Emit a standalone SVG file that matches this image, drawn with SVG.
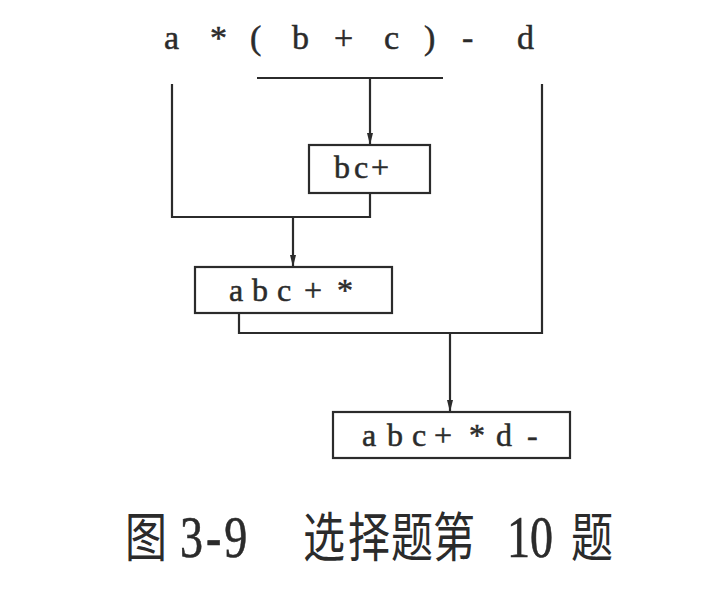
<svg xmlns="http://www.w3.org/2000/svg" width="726" height="590" viewBox="0 0 726 590">
<style>
.ln{fill:none;stroke:#2b2b2b;stroke-width:2.2}
.box{fill:#fff;stroke:#2b2b2b;stroke-width:2.2}
.t{font-family:"Liberation Serif","Times New Roman",serif;fill:#2b2b2b;stroke:#2b2b2b;stroke-width:0.5}
.cjk{font-family:"Noto Sans CJK SC",sans-serif;fill:#2b2b2b}
</style>
<defs>
<marker id="ah" viewBox="0 0 12 8" refX="12" refY="4" markerWidth="12" markerHeight="8" markerUnits="userSpaceOnUse" orient="auto">
<path d="M0,1 L12,4 L0,7 Z" fill="#2b2b2b"/>
</marker>
</defs>
<rect width="726" height="590" fill="#fff"/>
<g id="expr">
<text class="t" font-size="34" y="49"><tspan x="164">a</tspan><tspan x="210">*</tspan><tspan x="250">(</tspan><tspan x="292">b</tspan><tspan x="334">+</tspan><tspan x="384">c</tspan><tspan x="424">)</tspan><tspan x="462">-</tspan><tspan x="517">d</tspan></text>
</g>
<g id="connectors">
<line class="ln" x1="257" y1="78" x2="443" y2="78"/>
<line class="ln" x1="370" y1="78" x2="370" y2="145" marker-end="url(#ah)"/>
<polyline class="ln" points="172,84 172,217 370,217 370,193"/>
<line class="ln" x1="293" y1="217" x2="293" y2="267" marker-end="url(#ah)"/>
<polyline class="ln" points="239,313 239,333 542,333 542,84"/>
<line class="ln" x1="450" y1="333" x2="450" y2="412" marker-end="url(#ah)"/>
</g>
<g id="n1">
<rect class="box" x="309" y="145" width="121" height="48"/>
<text class="t" font-size="32" y="178"><tspan x="334">b</tspan><tspan x="354">c</tspan><tspan x="371">+</tspan></text>
</g>
<g id="n2">
<rect class="box" x="195" y="267" width="197" height="46"/>
<text class="t" font-size="32" y="301"><tspan x="229">a</tspan><tspan x="252">b</tspan><tspan x="277">c</tspan><tspan x="304">+</tspan><tspan x="337">*</tspan></text>
</g>
<g id="n3">
<rect class="box" x="333" y="412" width="237" height="46"/>
<text class="t" font-size="32" y="446"><tspan x="362">a</tspan><tspan x="387">b</tspan><tspan x="412">c</tspan><tspan x="434">+</tspan><tspan x="469">*</tspan><tspan x="496">d</tspan><tspan x="527">-</tspan></text>
</g>
<g id="caption" transform="translate(0,557) scale(1,1.28)">
<text class="cjk" font-size="42" y="0"><tspan x="125">图</tspan></text>
<text class="t" font-size="46" y="0" letter-spacing="3"><tspan x="180">3-9</tspan></text>
<text class="cjk" font-size="42" y="0"><tspan x="303">选</tspan><tspan x="348">择</tspan><tspan x="391">题</tspan><tspan x="433">第</tspan></text>
<text class="t" font-size="46" y="0"><tspan x="507">10</tspan></text>
<text class="cjk" font-size="42" y="0"><tspan x="571">题</tspan></text>
</g>
</svg>
